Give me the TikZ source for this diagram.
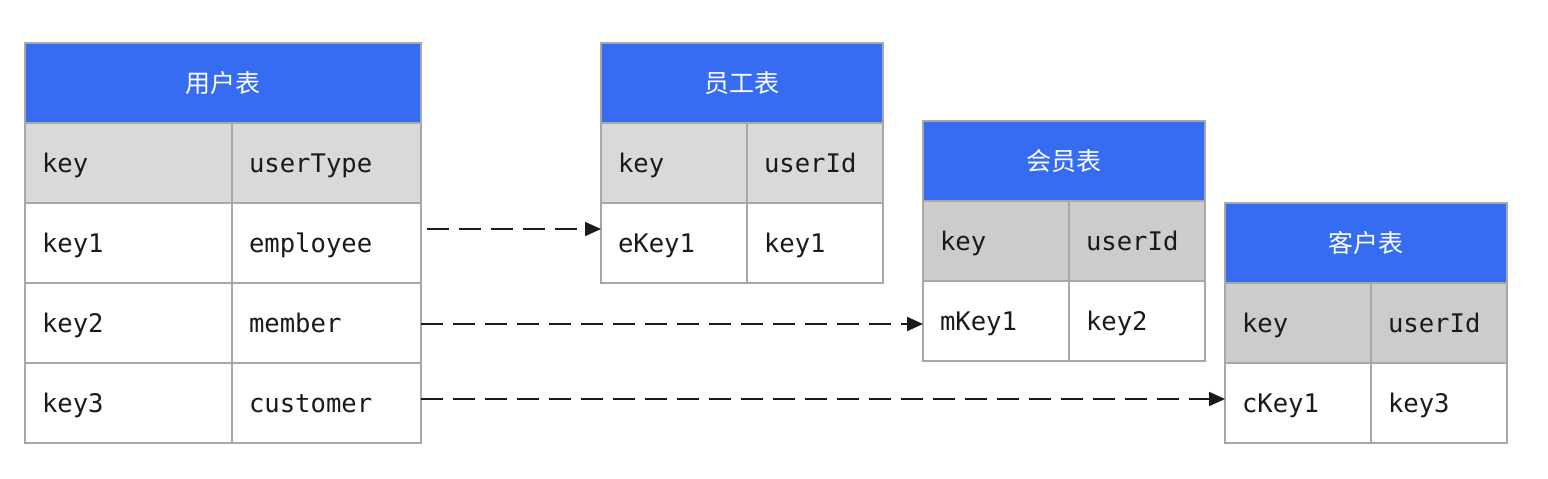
\documentclass[tikz,border=0pt]{standalone}
\usepackage{fontspec}
\setmonofont{DejaVu Sans Mono}
\newfontfamily\cjk{Noto Sans CJK SC}
\usetikzlibrary{arrows.meta}
\definecolor{hdrblue}{HTML}{356CF2}
\definecolor{bordergray}{HTML}{A8A8A9}
\definecolor{headA}{HTML}{D9D9D9}
\definecolor{headB}{HTML}{CCCCCC}
\definecolor{textdark}{HTML}{1A1A1A}
\definecolor{linedark}{HTML}{1A1A1A}
\begin{document}
\begin{tikzpicture}[x=0.5pt,y=-0.5pt,
  base/.style={draw=bordergray, line width=1pt, outer sep=0pt, anchor=north west, minimum height=40pt, inner ysep=0pt},
  title/.style={base, fill=hdrblue, text=white, inner xsep=0pt, minimum width=#1, font=\cjk\fontsize{12.5}{14}\selectfont},
  cell/.style={base, fill=white, inner xsep=8.5pt, text width=#1, align=left, text height=10.5pt, text depth=1.5pt, text=textdark, font=\ttfamily\fontsize{12.8}{15}\selectfont},
  hcellA/.style={cell=#1, fill=headA},
  hcellB/.style={cell=#1, fill=headB},
  link/.style={draw=linedark, line width=1pt, dash pattern=on 11pt off 5pt, -{Triangle[length=8pt,width=7pt]}}]
\useasboundingbox (0,0) rectangle (1548,478);
% user table
\node[title=198pt] (ut) at (25,43) {用户表};
\node[hcellA=86.5pt] (uh1) at (25,123) {key};
\node[hcellA=77.5pt] (uh2) at (232,123) {userType};
\node[cell=86.5pt] (u1a) at (25,203) {key1};
\node[cell=77.5pt] (u1b) at (232,203) {employee};
\node[cell=86.5pt] (u2a) at (25,283) {key2};
\node[cell=77.5pt] (u2b) at (232,283) {member};
\node[cell=86.5pt] (u3a) at (25,363) {key3};
\node[cell=77.5pt] (u3b) at (232,363) {customer};
% employee table
\node[title=141pt] (et) at (601,43) {员工表};
\node[hcellA=56pt] (eh1) at (601,123) {key};
\node[hcellA=51pt] (eh2) at (747,123) {userId};
\node[cell=56pt] (e1a) at (601,203) {eKey1};
\node[cell=51pt] (e1b) at (747,203) {key1};
% member table
\node[title=141pt] (mt) at (923,121) {会员表};
\node[hcellB=56pt] (mh1) at (923,201) {key};
\node[hcellB=51pt] (mh2) at (1069,201) {userId};
\node[cell=56pt] (m1a) at (923,281) {mKey1};
\node[cell=51pt] (m1b) at (1069,281) {key2};
% customer table
\node[title=141pt] (ct) at (1225,203) {客户表};
\node[hcellB=56pt] (ch1) at (1225,283) {key};
\node[hcellB=51pt] (ch2) at (1371,283) {userId};
\node[cell=56pt] (c1a) at (1225,363) {cKey1};
\node[cell=51pt] (c1b) at (1371,363) {key3};
% connectors
\coordinate (s1) at (427,229);
\coordinate (s2) at (421,324);
\coordinate (s3) at (421,399);
\draw[link] (s1) -- (s1 -| e1a.west);
\draw[link] (s2) -- (s2 -| m1a.west);
\draw[link] (s3) -- (s3 -| c1a.west);
\end{tikzpicture}
\end{document}
